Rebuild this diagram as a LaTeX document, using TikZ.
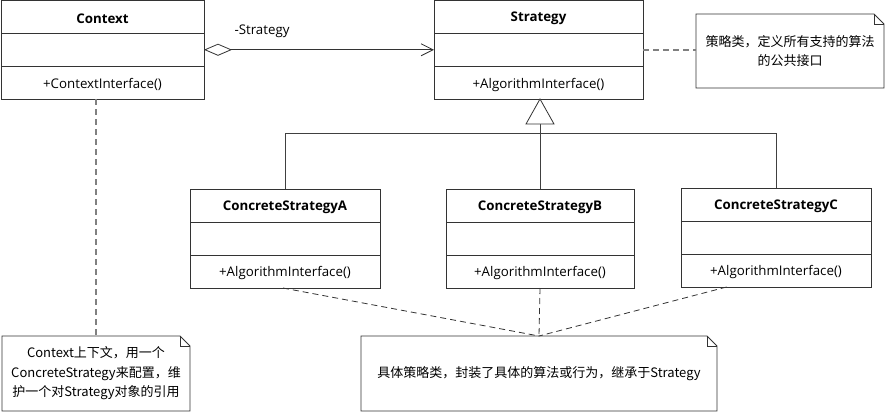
\documentclass[tikz,border=0pt]{standalone}
\usepackage{fontspec}
\setmainfont{Open Sans}
\newfontfamily\cjk{Noto Sans CJK SC}
\usetikzlibrary{arrows.meta,calc}
\newcommand\umlclass[7]{%
  \node[classbox, minimum width={(#4-#2)*1pt}, minimum height={(#5-#3)*1pt}] (#1) at ({(#2+#4)/2},{(#3+#5)/2}) {};
  \draw[classline] ($(#1.north west)!1/3!(#1.south west)$) -- ($(#1.north east)!1/3!(#1.south east)$);
  \draw[classline] ($(#1.north west)!2/3!(#1.south west)$) -- ($(#1.north east)!2/3!(#1.south east)$);
  \node[titletext] (#1-t) at ($(#1.north)!1/6!(#1.south)$) {#6};
  \node[methtext] (#1-m) at ($(#1.north)!5/6!(#1.south)$) {#7};
}
\newcommand\umlnoteshape[1]{%
  \draw[classline] (#1.north west) -- ([xshift=-10pt]#1.north east) -- ([yshift=-10pt]#1.north east) -- (#1.south east) -- (#1.south west) -- cycle;
  \draw[classline] ([xshift=-10pt]#1.north east) |- ([yshift=-10pt]#1.north east);
}
\begin{document}
\begin{tikzpicture}[x=1pt,y=-1pt,
  classbox/.style={draw=black!80, line width=0.8pt, inner sep=0pt, outer sep=0pt, fill=white},
  classline/.style={draw=black!80, line width=0.8pt},
  titletext/.style={font=\fontsize{13.3}{15}\selectfont\bfseries, inner sep=0pt, yshift=-1.5pt},
  methtext/.style={font=\fontsize{13.3}{15}\selectfont, inner sep=0pt, yshift=-2pt},
  notetext/.style={font=\cjk\fontsize{13}{19.5}\selectfont, align=center, inner sep=0pt, outer sep=0pt},
  graydash/.style={draw=black!50, line width=1.6pt, dash pattern=on 6pt off 4pt},
  thindash/.style={draw=black!80, line width=0.8pt, dash pattern=on 6pt off 4pt},
  inherit/.style={draw=black!75, line width=0.8pt},
]
\useasboundingbox (0,0) rectangle (885,413);

\umlclass{ctx}{1}{0.5}{204}{99}{Context}{+ContextInterface()}
\umlclass{strat}{434}{0.5}{643}{99}{Strategy}{+AlgorithmInterface()}
\umlclass{a}{190}{189}{380}{288}{ConcreteStrategyA}{+AlgorithmInterface()}
\umlclass{b}{446}{189}{634}{288}{ConcreteStrategyB}{+AlgorithmInterface()}
\umlclass{c}{681}{188}{871}{287}{ConcreteStrategyC}{+AlgorithmInterface()}

% aggregation
\draw[classline, {Diamond[open,length=28pt,width=12pt]}-{Straight Barb[length=12pt,width=12pt]}] (ctx.east) -- (strat.west);
\node[methtext] (lbl) at (262,29) {-Strategy};

% inheritance
\coordinate (tip) at (b.north |- strat.south);
\coordinate (tb) at ($(tip)+(0,25)$);
\coordinate (hbar) at (0,133);
\draw[inherit] (tb) -- (b.north);
\draw[inherit] (a.north) -- (a.north |- hbar) -| (c.north);
\draw[classline, fill=white, line join=miter] (tip) -- ($(tb)+(-14,0)$) -- ($(tb)+(14,0)$) -- cycle;

% notes
\node[notetext, minimum width=188pt, minimum height=74pt] (n1) at (790,51) {策略类，定义所有支持的算法\\的公共接口};
\umlnoteshape{n1}
\node[notetext, minimum width=188pt, minimum height=75pt] (n2) at (96,373.5) {Context上下文，用一个\\ConcreteStrategy来配置，维\\护一个对Strategy对象的引用};
\umlnoteshape{n2}
\node[notetext, minimum width=356pt, minimum height=75pt] (n3) at (539,373.5) {具体策略类，封装了具体的算法或行为，继承于Strategy};
\umlnoteshape{n3}

% note connectors
\draw[graydash] (strat.east) -- (strat.east -| n1.west);
\draw[graydash] (n2.north |- ctx.south) -- (n2.north);
\draw[thindash] ($(a.south)+(-2,0)$) -- (n3.north);
\draw[thindash] (b.south) -- (n3.north);
\draw[thindash] ($(c.south west)!0.24!(c.south east)$) -- (n3.north);
\end{tikzpicture}
\end{document}
